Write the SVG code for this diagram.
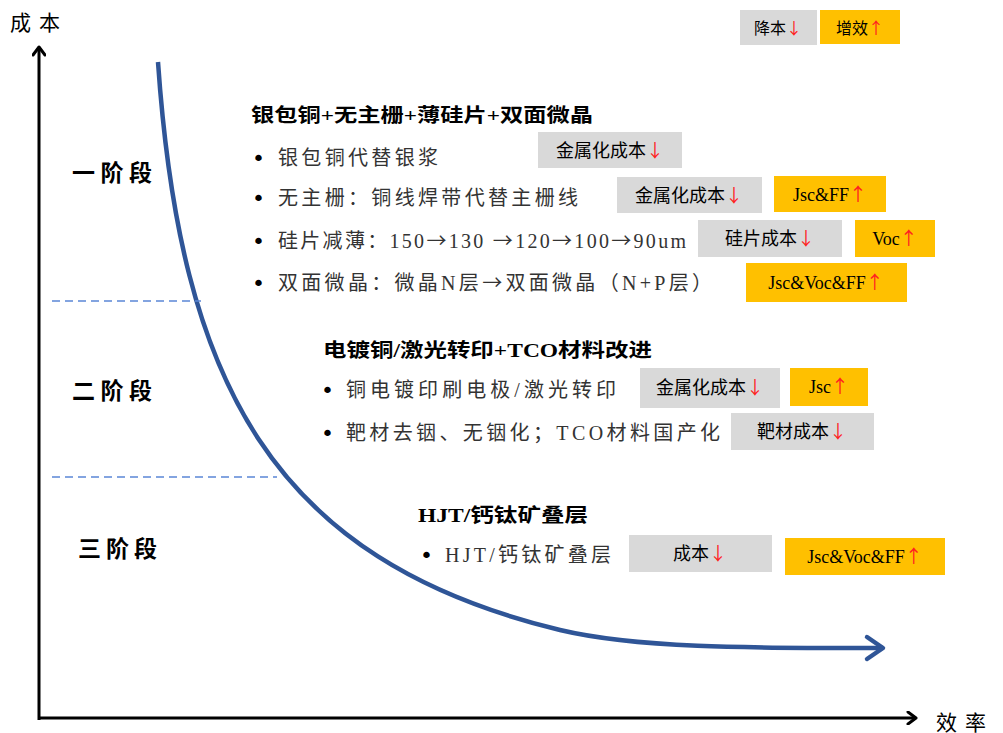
<svg xmlns="http://www.w3.org/2000/svg" width="1003" height="733" viewBox="0 0 1003 733">
<defs>
<style>
.t{font-family:"Liberation Serif","Noto Sans CJK SC",serif;fill:#000}
.b{font-weight:bold}
.it{font-size:20px;fill:#333}
.bu{font-family:"DejaVu Sans",sans-serif;font-size:22px;fill:#000}
.bx{font-size:18px;text-anchor:middle}
.g{fill:#D9D9D9}
.o{fill:#FFC000}
.r{fill:#FF2020;font-family:"Noto Sans CJK SC",sans-serif}
.ar{font-family:"Noto Sans CJK SC",sans-serif}
.dash{stroke:#5B87D6;stroke-width:1.3;stroke-dasharray:8 5;fill:none}
.ax{stroke:#000;stroke-width:3;fill:none}
</style>
<marker id="ah" markerWidth="14" markerHeight="14" refX="10" refY="7" orient="auto" markerUnits="userSpaceOnUse" viewBox="0 0 14 14">
<polyline points="2,1 10,7 2,13" fill="none" stroke="#000" stroke-width="3" stroke-linecap="round" stroke-linejoin="round"/>
</marker>
<marker id="bh" markerWidth="30" markerHeight="30" refX="20" refY="15" orient="auto" markerUnits="userSpaceOnUse" viewBox="0 0 30 30">
<polyline points="4,4 20,15 4,26" fill="none" stroke="#2F5597" stroke-width="4.5" stroke-linecap="round" stroke-linejoin="round"/>
</marker>
</defs>
<rect width="1003" height="733" fill="#fff"/>
<g id="connectors">
<line class="ax" x1="39" y1="720" x2="39" y2="47" marker-end="url(#ah)"/>
<line class="ax" x1="38" y1="718" x2="916" y2="718" marker-end="url(#ah)"/>
<path d="M158,62 C180,380 270,560 560,630 C640,649 760,648 883,648" fill="none" stroke="#2F5597" stroke-width="4.5" marker-end="url(#bh)"/>
<line class="dash" x1="52" y1="301" x2="201" y2="301"/>
<line class="dash" x1="52" y1="477" x2="277" y2="477"/>
</g>
<g id="axis-labels">
<text class="t" x="10" y="30" font-size="21" fill="#333" textLength="50" lengthAdjust="spacing">成本</text>
<text class="t" x="936" y="730" font-size="21" fill="#333" textLength="50" lengthAdjust="spacing">效率</text>
</g>
<g id="legend">
<rect class="g" x="740" y="10" width="77" height="35"/>
<text class="t bx" x="778" y="34" style="font-size:16px">降本<tspan class="r">↓</tspan></text>
<rect class="o" x="820" y="10" width="80" height="34"/>
<text class="t bx" x="860" y="34" style="font-size:16px">增效<tspan class="r">↑</tspan></text>
</g>
<g id="stages">
<text class="t b" x="72" y="181" font-size="23" textLength="80" lengthAdjust="spacing">一阶段</text>
<text class="t b" x="72" y="399" font-size="23" textLength="80" lengthAdjust="spacing">二阶段</text>
<text class="t b" x="78" y="557" font-size="23" textLength="79" lengthAdjust="spacing">三阶段</text>
</g>
<g id="stage1">
<text class="t b" x="251" y="122" font-size="19" textLength="342" lengthAdjust="spacingAndGlyphs">银包铜+无主栅+薄硅片+双面微晶</text>
<text class="bu" x="252" y="166">•</text>
<text class="t it" x="278" y="165" textLength="160" lengthAdjust="spacing">银包铜代替银浆</text>
<text class="bu" x="252" y="206">•</text>
<text class="t it" x="278" y="205" textLength="300" lengthAdjust="spacing">无主栅：铜线焊带代替主栅线</text>
<text class="bu" x="252" y="249">•</text>
<text class="t it" x="278" y="248" textLength="408" lengthAdjust="spacing">硅片减薄：150<tspan class="ar">→</tspan>130 <tspan class="ar">→</tspan>120<tspan class="ar">→</tspan>100<tspan class="ar">→</tspan>90um</text>
<text class="bu" x="252" y="291">•</text>
<text class="t it" x="278" y="290" textLength="434" lengthAdjust="spacing">双面微晶：微晶N层<tspan class="ar">→</tspan>双面微晶（N+P层）</text>
<rect class="g" x="538" y="132" width="144" height="36"/>
<text class="t bx" x="610" y="157">金属化成本<tspan class="r">↓</tspan></text>
<rect class="g" x="617" y="177" width="145" height="36"/>
<text class="t bx" x="689" y="202">金属化成本<tspan class="r">↓</tspan></text>
<rect class="o" x="774" y="176" width="112" height="36"/>
<text class="t bx" x="830" y="201">Jsc&amp;FF<tspan class="r">↑</tspan></text>
<rect class="g" x="698" y="220" width="144" height="37"/>
<text class="t bx" x="770" y="245">硅片成本<tspan class="r">↓</tspan></text>
<rect class="o" x="855" y="220" width="80" height="37"/>
<text class="t bx" x="895" y="245">Voc<tspan class="r">↑</tspan></text>
<rect class="o" x="746" y="263" width="161" height="39"/>
<text class="t bx" x="826" y="289">Jsc&amp;Voc&amp;FF<tspan class="r">↑</tspan></text>
</g>
<g id="stage2">
<text class="t b" x="323" y="357" font-size="19" textLength="329" lengthAdjust="spacingAndGlyphs">电镀铜/激光转印+TCO材料改进</text>
<text class="bu" x="321" y="398">•</text>
<text class="t it" x="346" y="397" textLength="270" lengthAdjust="spacing">铜电镀印刷电极/激光转印</text>
<text class="bu" x="321" y="441">•</text>
<text class="t it" x="346" y="440" textLength="374" lengthAdjust="spacing">靶材去铟、无铟化；TCO材料国产化</text>
<rect class="g" x="640" y="368" width="140" height="40"/>
<text class="t bx" x="710" y="394">金属化成本<tspan class="r">↓</tspan></text>
<rect class="o" x="790" y="368" width="78" height="38"/>
<text class="t bx" x="829" y="393">Jsc<tspan class="r">↑</tspan></text>
<rect class="g" x="731" y="413" width="143" height="37"/>
<text class="t bx" x="802" y="438">靶材成本<tspan class="r">↓</tspan></text>
</g>
<g id="stage3">
<text class="t b" x="418" y="522" font-size="19" textLength="170" lengthAdjust="spacingAndGlyphs">HJT/钙钛矿叠层</text>
<text class="bu" x="420" y="563">•</text>
<text class="t it" x="445" y="562" textLength="166" lengthAdjust="spacing">HJT/钙钛矿叠层</text>
<rect class="g" x="629" y="535" width="143" height="37"/>
<text class="t bx" x="700" y="560">成本<tspan class="r">↓</tspan></text>
<rect class="o" x="785" y="538" width="160" height="37"/>
<text class="t bx" x="865" y="563">Jsc&amp;Voc&amp;FF<tspan class="r">↑</tspan></text>
</g>
</svg>
